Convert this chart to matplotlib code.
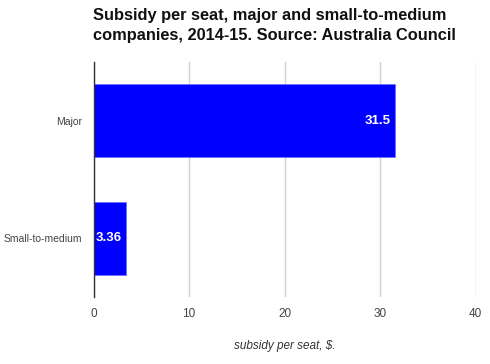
import matplotlib
matplotlib.use("Agg")
import matplotlib.pyplot as plt

## data
categories = ["Major", "Small-to-medium"]
subsidy = [31.5, 3.36]
value_labels = ["31.5", "3.36"]
x_ticks = [0, 10, 20, 30, 40]

plt.rcParams['font.family'] = ['Liberation Sans', 'DejaVu Sans']

fig = plt.figure(figsize=(4.9, 3.64), dpi=100)
ax = fig.add_axes([0.191, 0.184, 0.780, 0.646])

ypos = list(range(len(categories)))
bars = ax.barh(ypos, subsidy, height=0.617, color='#0000ff',
               edgecolor='#6f6fff', linewidth=0.6, zorder=3)

## value labels inside the end of each bar
for b, lab in zip(bars, value_labels):
    ax.text(b.get_width() - 0.45, b.get_y() + b.get_height() / 2, lab,
            ha='right', va='center', color='white', fontsize=9.5,
            fontweight='bold', zorder=4)

ax.set_ylim(1.5, -0.5)
ax.set_yticks(ypos)
ax.set_yticklabels(categories, fontsize=7.5, color='#444444')
ax.set_xlim(0, 40)
ax.set_xticks(x_ticks)
ax.set_xticklabels([str(t) for t in x_ticks], fontsize=8.5, color='#444444')
ax.tick_params(axis='x', length=0, pad=8)
ax.tick_params(axis='y', length=0, pad=8)

ax.grid(axis='x', color='#d0d0d0', linewidth=1, zorder=0)
for s in ['top', 'right', 'bottom']:
    ax.spines[s].set_visible(False)
ax.spines['left'].set_color('#333333')
ax.spines['left'].set_linewidth(1)
ax.spines['left'].set_zorder(5)

ax.set_xlabel('subsidy per seat, $.', fontsize=8.5, style='italic',
              color='#333333', labelpad=14)

fig.text(0.19, 0.978, 'Subsidy per seat, major and small-to-medium\n'
         'companies, 2014-15. Source: Australia Council',
         ha='left', va='top', fontsize=11.8, fontweight='bold',
         color='#111111', linespacing=1.4)

fig.savefig('out.png', dpi=100)
